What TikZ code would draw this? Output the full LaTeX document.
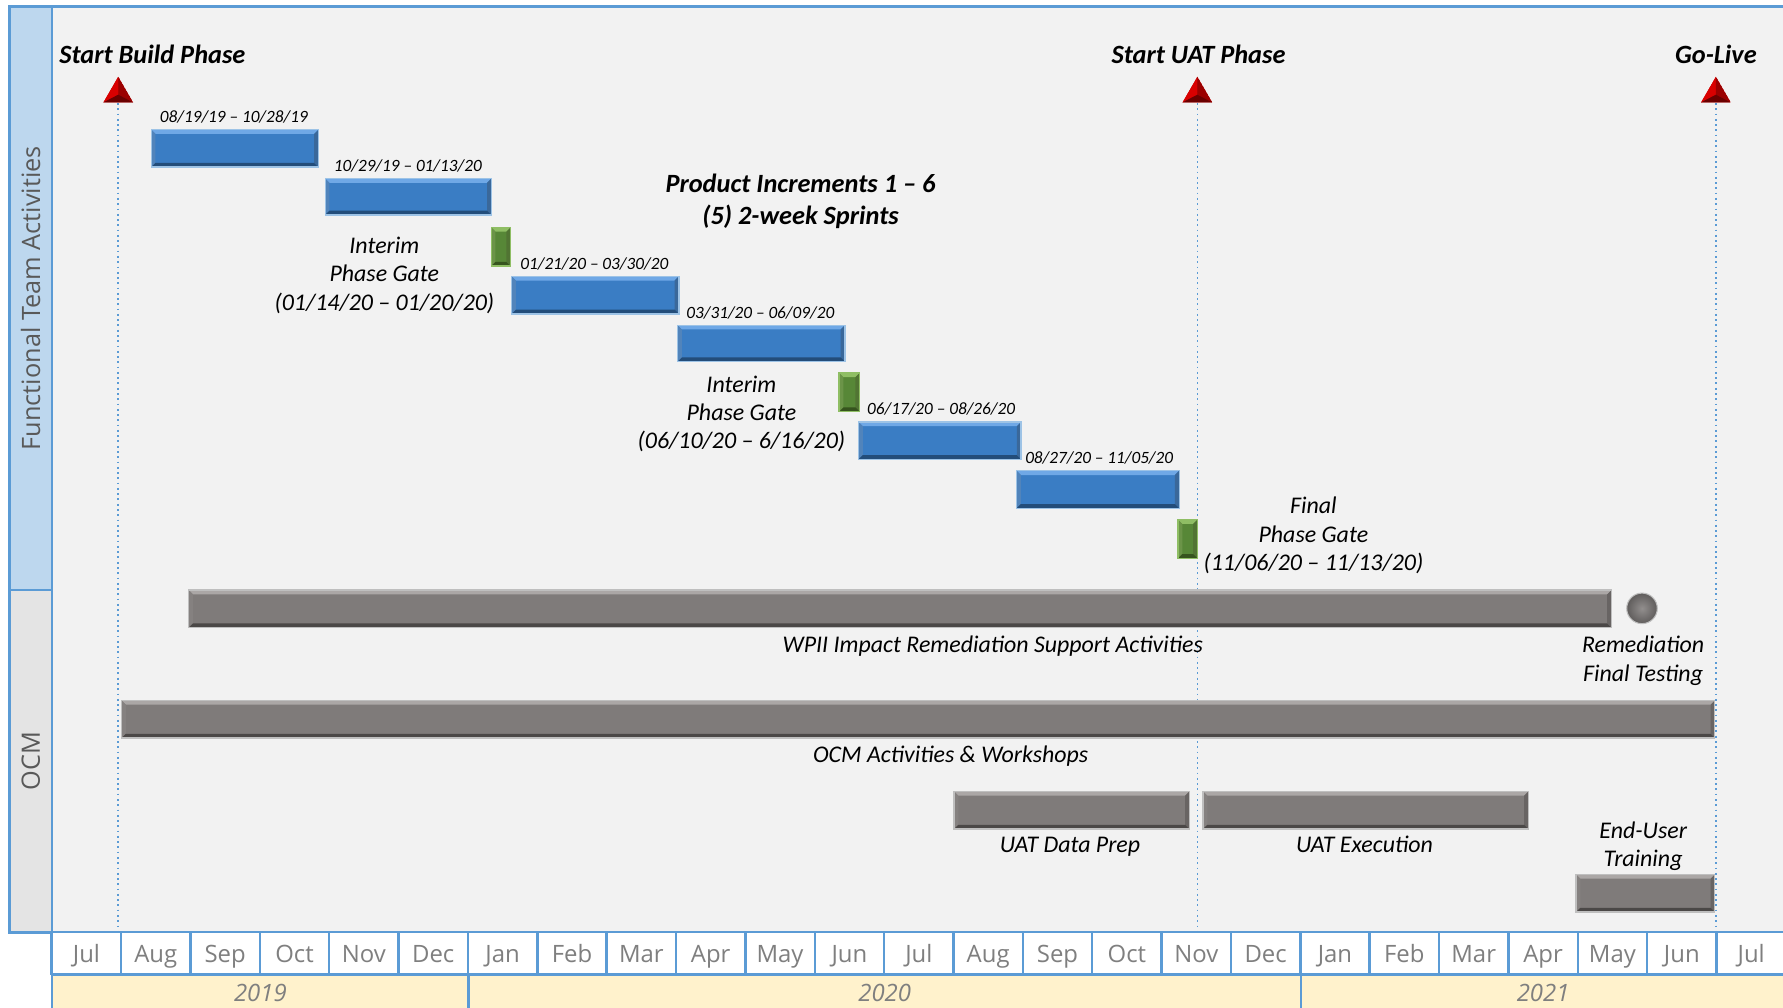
\documentclass[tikz,border=0pt]{standalone}
\usepackage{fontspec}
\setmainfont{Carlito}
\newfontfamily\axisfont{Open Sans}
\usetikzlibrary{positioning,fit,calc,shapes.geometric}

\definecolor{gridblue}{HTML}{5B9BD5}
\definecolor{panelgray}{HTML}{F2F2F2}
\definecolor{funcblue}{HTML}{BDD7EE}
\definecolor{ocmgray}{HTML}{E4E4E4}
\definecolor{yearyellow}{HTML}{FFF2CC}
\definecolor{axisgray}{HTML}{7F7F7F}
\definecolor{sidegray}{HTML}{595959}
\definecolor{sprintblue}{HTML}{3A7DC4}
\definecolor{sprintlight}{HTML}{6FA8E6}
\definecolor{sprintdark}{HTML}{234D7A}
\definecolor{sprintedge}{HTML}{9DC3E6}
\definecolor{gategreen}{HTML}{578737}
\definecolor{gatelight}{HTML}{8FBE64}
\definecolor{gatedark}{HTML}{36541E}
\definecolor{actgray}{HTML}{7F7B7A}
\definecolor{actlight}{HTML}{ABA7A6}
\definecolor{actdark}{HTML}{4B4847}
\definecolor{actedge}{HTML}{BFBFBF}
\definecolor{msred}{HTML}{C00000}

\tikzset{
  bevel/.style 2 args={path picture={
    \coordinate (bvNW) at (path picture bounding box.north west);
    \coordinate (bvNE) at (path picture bounding box.north east);
    \coordinate (bvSE) at (path picture bounding box.south east);
    \coordinate (bvSW) at (path picture bounding box.south west);
    \fill[#1] (bvNW) -- (bvNE) -- ([shift={(-1.2pt,-1.2pt)}]bvNE) -- ([shift={(1.2pt,-1.2pt)}]bvNW) -- cycle;
    \fill[#1!60!#2] (bvNW) -- (bvSW) -- ([shift={(1.2pt,1.2pt)}]bvSW) -- ([shift={(1.2pt,-1.2pt)}]bvNW) -- cycle;
    \fill[#2!70!#1] (bvNE) -- (bvSE) -- ([shift={(-1.2pt,1.2pt)}]bvSE) -- ([shift={(-1.2pt,-1.2pt)}]bvNE) -- cycle;
    \fill[#2] (bvSW) -- (bvSE) -- ([shift={(-1.2pt,1.2pt)}]bvSE) -- ([shift={(1.2pt,1.2pt)}]bvSW) -- cycle;
  }},
  sprint/.style={draw=sprintedge,line width=0.4pt,fill=sprintblue,inner sep=0pt,bevel={sprintlight}{sprintdark}},
  gate/.style={draw=gatelight,line width=0.4pt,fill=gategreen,inner sep=0pt,bevel={gatelight}{gatedark}},
  activity/.style={draw=actedge,line width=0.4pt,fill=actgray,inner sep=0pt,bevel={actlight}{actdark}},
  milestone/.style={regular polygon,regular polygon sides=3,minimum size=9.7pt,inner sep=0pt,fill=msred,
    path picture={
      \coordinate (msTop) at (path picture bounding box.north);
      \coordinate (msL) at (path picture bounding box.south west);
      \coordinate (msR) at (path picture bounding box.south east);
      \coordinate (msC) at ($(path picture bounding box.south)!0.3!(path picture bounding box.north)$);
      \fill[red!85!black] (msTop) -- (msL) -- (msC) -- cycle;
      \fill[msred!80!black] (msTop) -- (msR) -- (msC) -- cycle;
      \fill[msred!55!black] (msL) -- (msR) -- (msC) -- cycle;
    }},
  guide/.style={gridblue,densely dotted,line width=0.5pt},
  datelbl/.style={font=\fontsize{4.9}{5.5}\selectfont\itshape,inner sep=0pt,anchor=west},
  note/.style={font=\fontsize{6.8}{8.1}\selectfont\itshape,align=center,inner sep=0pt},
  oneline/.style={note,text height=1.45ex,text depth=0.35ex},
  headline/.style={font=\fontsize{7.5}{9.06}\selectfont\bfseries\itshape,align=center,inner sep=0pt},
  monthcell/.style={draw=gridblue,line width=0.7pt,fill=white,minimum width=19.74pt,minimum height=11.97pt,
    inner sep=0pt,font=\axisfont\fontsize{6.8}{8}\selectfont,text=axisgray,text height=1.5ex,text depth=0.35ex},
  yearcell/.style={draw=gridblue,line width=0.7pt,fill=yearyellow,inner sep=0pt},
  yearlbl/.style={font=\axisfont\fontsize{6.8}{8}\selectfont\itshape,text=axisgray},
  sidebox/.style={draw=gridblue,line width=0.7pt,inner sep=0pt},
  sidelbl/.style={font=\axisfont\fontsize{7.2}{8}\selectfont,text=sidegray,rotate=90}
}

\begin{document}
\begin{tikzpicture}[x=0.11371mm,y=-0.11371mm]
\useasboundingbox (0,0) rectangle (1568,886);

\node[draw=gridblue,line width=0.7pt,fill=panelgray,inner sep=0pt,fit={(45.5,5.5) (1575,820)}] (chart) {};
\node[sidebox,fill=funcblue,fit={(8.5,5.5) (45.5,519)}] (func) {};
\node[sidebox,fill=ocmgray,fit={(8.5,519) (45.5,820)}] (ocm) {};
\node[sidelbl] (funclbl) at (func) {Functional Team Activities};
\node[sidelbl] (ocmlbl) at (ocm) {OCM};

\foreach \m [count=\i from 0] in {Jul,Aug,Sep,Oct,Nov,Dec,Jan,Feb,Mar,Apr,May,Jun,
    Jul,Aug,Sep,Oct,Nov,Dec,Jan,Feb,Mar,Apr,May,Jun,Jul}
  \node[monthcell] (m\i) at ({76+61*\i},838) {\m};

\node[yearcell,fit={(45.5,857) (412,892)}] (y2019) {};
\node[yearcell,fit={(412,857) (1144,892)}] (y2020) {};
\node[yearcell,fit={(1144,857) (1575,892)}] (y2021) {};
\foreach \yr/\xc in {2019/229,2020/778,2021/1357}
  \node[yearlbl] (t\yr) at (\xc,873) {\yr};

\node[milestone] (msbuild) at (104,82.5) {};
\node[milestone] (msuat) at (1053,82.5) {};
\node[milestone] (mslive) at (1509,82.5) {};
\foreach \ms in {msbuild,msuat,mslive}
  \draw[guide] (\ms.south) -- (\ms.south |- chart.south);

\node[headline] (hbuild) at (134,48) {Start Build Phase};
\node[headline] (huat) at (1054,48) {Start UAT Phase};
\node[headline] (hlive) at (1509,48) {Go-Live};
\node[headline] (hsprints) at (704,177) {Product Increments 1 -- 6\\(5) 2-week Sprints};

\foreach \xa/\ya/\xb/\yb/\dates [count=\i] in {
    133/114/280/147/{08/19/19 -- 10/28/19},
    286/157/432/189/{10/29/19 -- 01/13/20},
    450/243/597/276/{01/21/20 -- 03/30/20},
    596/286/743/318/{03/31/20 -- 06/09/20},
    755/371/898/404/{06/17/20 -- 08/26/20},
    894/414/1037/447/{08/27/20 -- 11/05/20}}{
  \node[sprint,fit={(\xa,\ya) (\xb,\yb)}] (sprint\i) {};
  \node[datelbl] (date\i) at ({\xa+7},{\ya-11}) {\dates};
}

\foreach \xa/\ya/\xb/\yb [count=\i] in {432/200/449/234,738/328/756/362,1036/457/1053/491}
  \node[gate,fit={(\xa,\ya) (\xb,\yb)}] (gate\i) {};

\node[note] (gatenote1) at (338,242) {Interim\\Phase Gate\\(01/14/20 -- 01/20/20)};
\node[note] (gatenote2) at (652,364) {Interim\\Phase Gate\\(06/10/20 -- 6/16/20)};
\node[note] (gatenote3) at (1155,471) {Final\\Phase Gate\\(11/06/20 -- 11/13/20)};

\node[activity,fit={(166,519) (1417,552)}] (wpii) {};
\node[activity,fit={(107,616) (1508,649)}] (ocmwork) {};
\node[activity,fit={(839,696) (1046,729)}] (uatprep) {};
\node[activity,fit={(1058,696) (1344,729)}] (uatexec) {};
\node[activity,fit={(1386,769) (1508,802)}] (training) {};
\node[circle,minimum size=8.7pt,inner sep=0pt,draw=actedge,line width=0.3pt,
  inner color=actgray!85!white,outer color=actgray!75!black] (remtest) at (1444,535) {};

\node[oneline] (wpiilbl) at (873,566) {WPII Impact Remediation Support Activities};
\node[note] (remlbl) at (1445,581) {Remediation\\Final Testing};
\node[oneline] (ocmworklbl) at (836,662) {OCM Activities \& Workshops};
\node[oneline] (preplbl) at (941,742) {UAT Data Prep};
\node[oneline] (execlbl) at (1200,742) {UAT Execution};
\node[note] (traininglbl) at (1445,744) {End-User\\Training};

\end{tikzpicture}
\end{document}
